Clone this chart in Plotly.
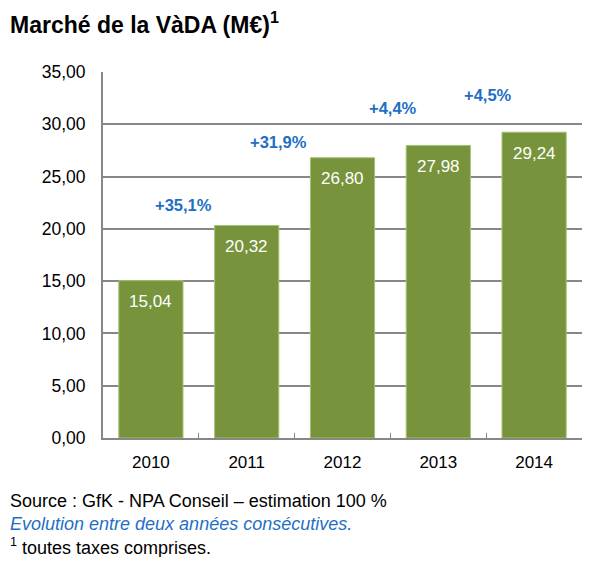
import plotly.graph_objects as go

years = ["2010", "2011", "2012", "2013", "2014"]
values = [15.04, 20.32, 26.80, 27.98, 29.24]
value_labels = ["15,04", "20,32", "26,80", "27,98", "29,24"]
growth_labels = ["+35,1%", "+31,9%", "+4,4%", "+4,5%"]
growth_x = [0.345, 1.327, 2.53, 3.52]
growth_y = [22.28, 28.31, 31.56, 32.8]
tick_vals = [0, 5, 10, 15, 20, 25, 30, 35]

FONT = "Liberation Sans, Arial, sans-serif"
OFF = 8  # page body margin offset
W, H = 595 - 2 * OFF, 565 - 2 * OFF
PL, PR, PT, PB = 103 - OFF, 582 - OFF, 72 - OFF, 438 - OFF

fig = go.Figure()
fig.add_trace(go.Bar(
    x=list(range(len(years))), y=values,
    marker=dict(color="#77933C", line=dict(color="#A6C172", width=1)),
    width=0.67, hoverinfo="skip",
))

for i, (v, t) in enumerate(zip(values, value_labels)):
    fig.add_annotation(x=i, y=v, text=t, showarrow=False, xref="x", yref="y",
                       yanchor="middle", yshift=-21,
                       font=dict(family=FONT, size=17, color="white"))
for gx, gy, t in zip(growth_x, growth_y, growth_labels):
    fig.add_annotation(x=gx, y=gy, text="<b>" + t + "</b>", showarrow=False, xref="x", yref="y",
                       yanchor="middle",
                       font=dict(family=FONT, size=16.5, color="#1F6FC5"))

fig.update_layout(
    width=W, height=H,
    margin=dict(l=PL, r=W - PR, t=PT, b=H - PB, autoexpand=False),
    paper_bgcolor="white", plot_bgcolor="white",
    showlegend=False,
    separators=", ",
    font=dict(family=FONT, size=17, color="black"),
    xaxis=dict(tickmode="array", tickvals=list(range(len(years))), ticktext=years,
               range=[-0.5, 4.5], showgrid=False, zeroline=False,
               showline=True, linecolor="#878787", linewidth=2,
               ticks="", ticklabelstandoff=8,
               tickfont=dict(size=17, color="black")),
    xaxis2=dict(overlaying="x", range=[-0.5, 4.5], tickmode="array",
                tickvals=[0.5, 1.5, 2.5, 3.5], ticks="inside", ticklen=5,
                tickcolor="#878787", tickwidth=1, showticklabels=False,
                showgrid=False, zeroline=False, side="bottom", anchor="y"),
    yaxis=dict(range=[0, 35], tickvals=tick_vals, tickformat=".2f",
               showgrid=True, gridcolor="#878787", gridwidth=2,
               zeroline=False, showline=True, linecolor="#878787", linewidth=2,
               ticks="", ticklabelstandoff=12, tickfont=dict(size=17.5, color="black")),
)
# invisible trace to activate the secondary x axis (category divider ticks)
fig.add_trace(go.Scatter(x=[0], y=[0], xaxis="x2", mode="markers",
                         marker=dict(opacity=0), hoverinfo="skip", showlegend=False))


def add_px(xpx, ypx, text, size, color):
    xp = (xpx - OFF - PL) / (PR - PL)
    yp = (PB - (ypx - OFF)) / (PB - PT)
    fig.add_annotation(x=xp, y=yp, xref="paper", yref="paper",
                       xanchor="left", yanchor="middle", showarrow=False,
                       text=text, font=dict(family=FONT, size=size, color=color))


add_px(8, 23, "<b>Marché de la VàDA (M€)<sup>1</sup></b>", 23, "black")
add_px(8, 501, "Source : GfK - NPA Conseil – estimation 100 %", 18, "black")
add_px(8, 524, "<i>Evolution entre deux années consécutives.</i>", 18, "#1F6FC5")
add_px(8, 546, "<sup>1</sup> toutes taxes comprises.", 18, "black")

fig.write_html("out.html")
